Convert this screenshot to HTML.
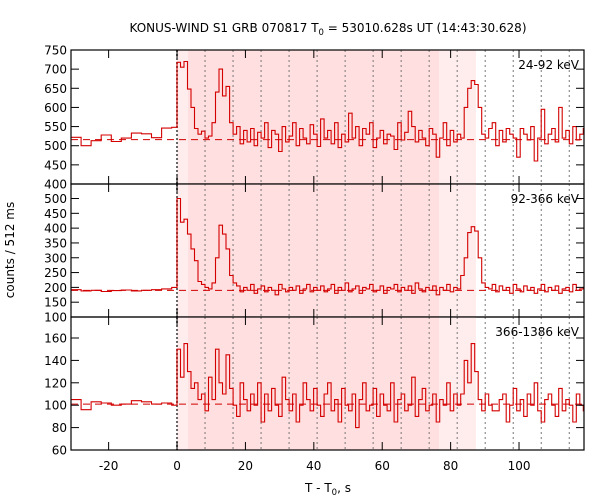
<!DOCTYPE html>
<html><head><meta charset="utf-8"><style>
body{margin:0;background:#fff}
svg{display:block;font-family:"DejaVu Sans","Liberation Sans",sans-serif}
</style></head><body>
<svg id="c" width="600" height="500" viewBox="0 0 600 500">
<text x="328" y="32" text-anchor="middle" font-size="12" fill="#000">KONUS-WIND S1 GRB 070817 T<tspan font-size="8.5" dy="3">0</tspan><tspan dy="-3"> = 53010.628s UT (14:43:30.628)</tspan></text>
<text transform="translate(14,250) rotate(-90)" text-anchor="middle" font-size="12">counts / 512 ms</text>
<text x="328" y="492" text-anchor="middle" font-size="12">T - T<tspan font-size="8.5" dy="3">0</tspan><tspan dy="-3">, s</tspan></text>
</svg>
<script>
const xTicks=[-20,0,20,40,60,80,100];
const preEdgesStart=-31, preBinWidth=2.944;
const postBinWidth=1.024;
const dotLines=[8.192,16.384,24.576,32.768,40.96,49.152,57.344,65.536,73.728,81.92,90.112,98.304,106.496,114.688];
const shadeLight1=[0,3.2], shadeDark=[3.2,76.6], shadeLight2=[76.6,87.4];
const labels=["24-92 keV","92-366 keV","366-1386 keV"];
const yTicksTop=[400,450,500,550,600,650,700,750];
const yTicksMid=[100,150,200,250,300,350,400,450,500];
const yTicksBot=[60,80,100,120,140,160];
const bgTop=516, bgMid=190, bgBot=101;
const preTop=[522,500,513,528,511,520,533,531,521,546,548];
const preMid=[192,188,190,186,189,191,188,190,192,195,200];
const preBot=[105,96,103,102,100,101,104,103,101,102,100];
const postTop=[718,705,720,648,600,545,530,538,520,525,560,640,700,630,655,560,530,550,505,540,510,545,
500,535,520,560,495,540,530,485,550,510,525,560,500,545,520,505,555,530,498,
570,520,540,505,560,495,530,510,585,520,550,500,545,530,560,495,520,540,505,530,
525,490,560,515,535,590,550,510,540,520,500,545,530,470,520,560,500,540,510,530,
520,600,650,670,660,600,530,520,545,560,
500,540,510,545,530,520,470,545,530,515,550,460,520,595,505,530,545,510,600,520,540,505,550,515,530,545,495];
const postMid=[500,420,430,380,330,290,220,210,200,195,215,300,410,380,330,240,215,205,185,200,190,210,
180,195,205,185,200,190,175,210,195,185,200,190,205,180,195,210,185,200,190,
205,185,195,210,180,200,190,215,185,195,205,180,200,195,210,185,190,205,180,200,
195,210,185,200,190,205,180,215,195,185,200,190,205,175,200,190,210,185,200,195,
240,300,385,405,390,300,215,200,195,210,
185,205,190,200,180,210,195,185,205,190,200,180,195,210,185,200,190,205,180,195,200,185,210,190,195,200];
const postBot=[150,125,155,130,115,120,105,110,95,125,105,150,120,110,145,115,100,90,120,105,95,110,
100,120,85,110,95,115,100,90,125,105,95,110,85,100,120,105,95,115,100,
90,110,120,95,105,85,115,100,95,110,80,105,120,95,100,115,90,110,100,95,
120,85,105,110,95,100,125,90,105,115,95,100,110,85,105,100,120,95,110,100,
110,140,120,155,130,105,95,110,100,95,
95,105,110,85,100,115,95,105,90,110,100,120,95,85,105,110,100,90,115,95,105,100,85,110,100,95];

const NS="http://www.w3.org/2000/svg";
const svg=document.getElementById('c');
const X0=71,X1=584,T0=-31,T1=119;
const x=t=>X0+(t-T0)/(T1-T0)*(X1-X0);
function mk(tag,attrs,parent){const e=document.createElementNS(NS,tag);for(const k in attrs)e.setAttribute(k,attrs[k]);(parent||svg).appendChild(e);return e;}
const panels=[
 {top:50,bot:184,lo:400,hi:750,ticks:yTicksTop,pre:preTop,post:postTop,bg:bgTop,name:'panel-24-92kev'},
 {top:184,bot:317,lo:100,hi:549,ticks:yTicksMid,pre:preMid,post:postMid,bg:bgMid,name:'panel-92-366kev'},
 {top:317,bot:450,lo:60,hi:178.75,ticks:yTicksBot,pre:preBot,post:postBot,bg:bgBot,name:'panel-366-1386kev'}];
const defs=mk('defs',{});
panels.forEach((p,pi)=>{
 const y=v=>p.bot-(v-p.lo)/(p.hi-p.lo)*(p.bot-p.top);
 const g=mk('g',{});
 
 
 const cp=mk('clipPath',{id:'cp'+pi},defs);
 mk('rect',{x:X0,y:p.top,width:X1-X0,height:p.bot-p.top},cp);
 [[shadeLight1,'#ffecec','shade-pre'],[shadeDark,'#ffdfdf','shade-main'],[shadeLight2,'#ffecec','shade-tail']].forEach(s=>{
  const r=mk('rect',{x:x(s[0][0]),y:p.top,width:x(s[0][1])-x(s[0][0]),height:p.bot-p.top,fill:s[1]},g);
  
  
 });
 dotLines.forEach(t=>{
  const l=mk('line',{x1:x(t),x2:x(t),y1:p.top,y2:p.bot,stroke:'#777','stroke-dasharray':'2,3','stroke-width':1},g);
  
  
 });
 const zl=mk('line',{x1:x(0),x2:x(0),y1:p.top,y2:p.bot,stroke:'#666','stroke-dasharray':'2,2','stroke-width':2},g);
 
 
 const bl=mk('line',{x1:X0,x2:X1,y1:y(p.bg),y2:y(p.bg),stroke:'#d00000','stroke-dasharray':'7,5','stroke-width':1},g);
 
 
 let edges=[],vals=[];
 p.pre.forEach((v,i)=>{const a=preEdgesStart+i*preBinWidth;edges.push([a,Math.min(a+preBinWidth,0)]);vals.push(v);});
 p.post.forEach((v,i)=>{edges.push([i*postBinWidth,(i+1)*postBinWidth]);vals.push(v);});
 let d='';
 edges.forEach((e,i)=>{
  if(i===0)d+='M'+x(e[0]).toFixed(1)+' '+y(vals[i]).toFixed(1);
  else d+='V'+y(vals[i]).toFixed(1);
  d+='H'+x(e[1]).toFixed(1);
 });
 const pth=mk('path',{d:d,fill:'none',stroke:'#d40000','stroke-width':1.1,'clip-path':'url(#cp'+pi+')'},g);
 
 
 const fr=mk('rect',{x:X0,y:p.top,width:X1-X0,height:p.bot-p.top,fill:'none',stroke:'#000','stroke-width':1.2},g);
 
 
 p.ticks.forEach(v=>{
  const yy=y(v);
  mk('line',{x1:X0,x2:X0+8,y1:yy,y2:yy,stroke:'#000'},g);
  mk('line',{x1:X1-8,x2:X1,y1:yy,y2:yy,stroke:'#000'},g);
  const t=mk('text',{x:X0-4,y:yy+4.5,'text-anchor':'end','font-size':'12'},g);
  t.textContent=v;
  
  
 });
 xTicks.forEach(v=>{
  mk('line',{x1:x(v),x2:x(v),y1:p.bot,y2:p.bot-8,stroke:'#000'},g);
  mk('line',{x1:x(v),x2:x(v),y1:p.top,y2:p.top+8,stroke:'#000'},g);
 });
 const lb=mk('text',{x:579,y:p.top+19,'text-anchor':'end','font-size':'12'},g);
 lb.textContent=labels[pi];
 
 
});
xTicks.forEach(v=>{
 const t=mk('text',{x:x(v),y:470,'text-anchor':'middle','font-size':'12'});
 t.textContent=v;
 
 
});
</script>
</body></html>
